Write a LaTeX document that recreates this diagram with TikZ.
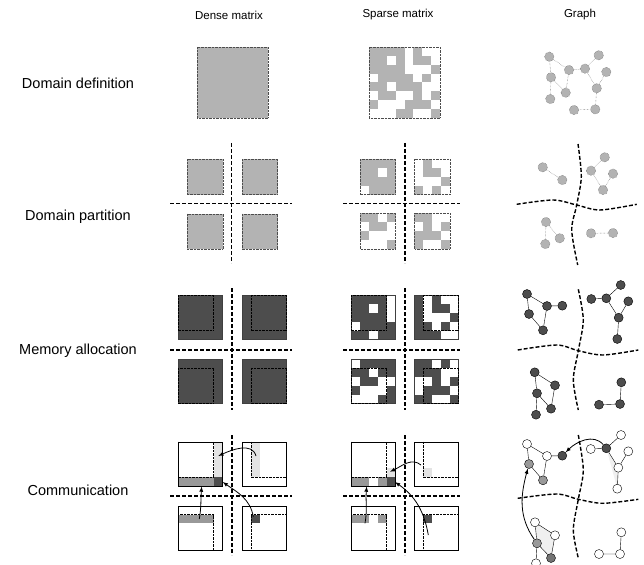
\documentclass[tikz,border=0pt]{standalone}
\usepackage{fontspec}
\setmainfont{Liberation Sans}
\usetikzlibrary{arrows,shapes}
\definecolor{lgray}{HTML}{B3B3B3}
\definecolor{mgray}{HTML}{999999}
\definecolor{dgray}{HTML}{4D4D4D}
\definecolor{pgray}{HTML}{E3E3E3}
\tikzstyle{lbl}=[font=\fontsize{11.5}{13}\selectfont, inner sep=0]
\tikzstyle{rowlbl}=[font=\fontsize{14.5}{16}\selectfont, inner sep=0]
\tikzstyle{part}=[line width=1.4pt, dash pattern=on 4pt off 2pt]
\tikzstyle{blk}=[fill=lgray, draw=black!70, densely dotted]
\tikzstyle{spbox}=[draw=black!70, densely dotted]
\tikzstyle{alloc}=[draw=black!75]
\tikzstyle{ghost}=[draw=black, densely dotted]
\tikzstyle{gv}=[circle, inner sep=0, minimum size=9.5pt, fill=lgray, draw=black!70, densely dotted]
\tikzstyle{dv}=[circle, inner sep=0, minimum size=9pt, fill=dgray, draw=black, solid]
\tikzstyle{wv}=[dv, fill=white]
\tikzstyle{mv}=[dv, fill=mgray]
\tikzstyle{ge}=[draw=black!70, densely dotted]
\tikzstyle{de}=[draw=black]
\tikzstyle{msg}=[->, >=latex, thick]
% nonzero cells (row/col) of the 8x8 sparse matrix
\def\nzlist{0/0,0/1,0/2,0/3,0/5,1/0,1/1,1/3,1/5,1/6,2/0,2/1,2/2,2/3,2/7,%
3/1,3/2,3/3,3/4,3/6,4/0,4/1,4/3,4/4,4/5,5/1,5/2,5/5,5/7,6/0,6/4,6/5,6/6,%
7/3,7/4,7/7}
\def\cw{8.875}
% origin x, origin y, first row, last row, first col, last col, fill
\newcommand\spcells[7]{%
  \foreach \ri/\ci in \nzlist {%
    \ifnum\ri<#3 \else\ifnum\ri>#4 \else\ifnum\ci<#5 \else\ifnum\ci>#6 \else
      \fill[#7] ({#1+\ci*\cw},{#2+\ri*\cw}) rectangle ++(\cw,\cw);
    \fi\fi\fi\fi
  }}

\begin{document}
\begin{tikzpicture}[x=1pt, y=-1pt]
\useasboundingbox (0,0) rectangle (644,564);

% headers and row labels
\node[lbl] (hdense) at (229,15) {Dense matrix};
\node[lbl] (hsparse) at (398,15) {Sparse matrix};
\node[lbl] (hgraph) at (580,15) {Graph};
\node[rowlbl] (rdef) at (78,83) {Domain definition};
\node[rowlbl] (rpart) at (78,217) {Domain partition};
\node[rowlbl] (ralloc) at (78,351) {Memory allocation};
\node[rowlbl] (rcomm) at (78,490) {Communication};

%%% domain definition
\draw[blk] (197,47) rectangle ++(71,71);
\spcells{369}{47}{0}{7}{0}{7}{lgray}
\draw[spbox] (369,47) rectangle ++(71,71);

\node[gv] (n1) at (549.3,56.7) {};
\node[gv] (n2) at (569,70) {};
\node[gv] (n3) at (551,77.3) {};
\node[gv] (n4) at (565.7,92.7) {};
\node[gv] (n5) at (550.3,99) {};
\node[gv] (n6) at (585,68.7) {};
\node[gv] (n7) at (598.7,55.3) {};
\node[gv] (n8) at (606.3,72) {};
\node[gv] (n9) at (596.7,88.3) {};
\node[gv] (n10) at (595.3,109.3) {};
\node[gv] (n11) at (574,110) {};
\draw[ge] (n1) -- (n2) (n1) -- (n3) (n3) -- (n4) (n2) -- (n4) (n3) -- (n5)
  (n2) -- (n6) (n6) -- (n7) (n6) -- (n9) (n9) -- (n8) (n9) -- (n10)
  (n10) -- (n11);

%%% domain partition
\foreach \x/\y in {187.3/159, 242/159, 187.3/213.7, 242/213.7}
  \draw[blk] (\x,\y) rectangle ++(35.5,35.5);
\draw[part] (231.7,143) -- (231.7,263);
\draw[part] (170,203.7) -- (292,203.7);

\spcells{360}{159}{0}{3}{0}{3}{lgray}
\spcells{414.3-4*\cw}{159}{0}{3}{4}{7}{lgray}
\spcells{360}{213.3-4*\cw}{4}{7}{0}{3}{lgray}
\spcells{414.3-4*\cw}{213.3-4*\cw}{4}{7}{4}{7}{lgray}
\foreach \x/\y in {360/159, 414.3/159, 360/213.3, 414.3/213.3}
  \draw[spbox] (\x,\y) rectangle ++(35.5,35.5);
\draw[part] (405,143) -- (405,263);
\draw[part] (343,203.7) -- (460,203.7);

\node[gv] (e1) at (542.7,167.3) {};
\node[gv] (e2) at (562.3,180) {};
\node[gv] (f1) at (604.7,157.3) {};
\node[gv] (f2) at (591,170.7) {};
\node[gv] (f3) at (613,173.7) {};
\node[gv] (f4) at (603,190) {};
\node[gv] (g1) at (546,222) {};
\node[gv] (g2) at (545.3,244) {};
\node[gv] (g3) at (559.7,238.3) {};
\node[gv] (h1) at (591,233.3) {};
\node[gv] (h2) at (613,233) {};
\draw[ge] (e1) -- (e2) (f2) -- (f1) (f2) -- (f4) (f4) -- (f3)
  (g1) -- (g2) (g1) -- (g3) (h1) -- (h2);
\draw[part] plot[smooth] coordinates {(578,144) (581.3,176.7) (576.7,205) (571.7,230) (577.7,265)};
\draw[part] plot[smooth] coordinates {(516.7,204.3) (553.3,200) (576.7,205) (600,210) (636.7,204.3)};

%%% memory allocation
\foreach \x/\y in {178/295, 242/295, 178/359, 242/359}
  \draw[alloc, fill=dgray] (\x,\y) rectangle ++(5*\cw,5*\cw);
\draw[ghost] (178,295) rectangle ++(4*\cw,4*\cw);
\draw[ghost] (242+\cw,295) rectangle ++(4*\cw,4*\cw);
\draw[ghost] (178,359+\cw) rectangle ++(4*\cw,4*\cw);
\draw[ghost] (242+\cw,359+\cw) rectangle ++(4*\cw,4*\cw);
\draw[part] (232,288) -- (232,410);
\draw[part] (170,350) -- (292,350);

\spcells{351}{295}{0}{4}{0}{4}{dgray}
\spcells{414-3*\cw}{295}{0}{4}{3}{7}{dgray}
\spcells{351}{359-3*\cw}{3}{7}{0}{4}{dgray}
\spcells{414-3*\cw}{359-3*\cw}{3}{7}{3}{7}{dgray}
\foreach \x/\y in {351/295, 414/295, 351/359, 414/359}
  \draw[alloc] (\x,\y) rectangle ++(5*\cw,5*\cw);
\draw[ghost] (351,295) rectangle ++(4*\cw,4*\cw);
\draw[ghost] (414+\cw,295) rectangle ++(4*\cw,4*\cw);
\draw[ghost] (351,359+\cw) rectangle ++(4*\cw,4*\cw);
\draw[ghost] (414+\cw,359+\cw) rectangle ++(4*\cw,4*\cw);
\draw[part] (405,288) -- (405,410);
\draw[part] (343,350) -- (460,350);

\node[dv] (a1) at (527,294) {};
\node[dv] (a2) at (547,306) {};
\node[dv] (a3) at (562.3,305.7) {};
\node[dv] (a4) at (529,314) {};
\node[dv] (a5) at (543,330.3) {};
\node[dv] (b1) at (591.3,299) {};
\node[dv] (b2) at (606.3,298.3) {};
\node[dv] (b3) at (620.7,285) {};
\node[dv] (b4) at (628.3,301.3) {};
\node[dv] (b5) at (618.7,317.7) {};
\node[dv] (b6) at (617.3,339) {};
\node[dv] (c1) at (534.7,372.3) {};
\node[dv] (c2) at (555,385.3) {};
\node[dv] (c3) at (537,393.3) {};
\node[dv] (c4) at (551,408.7) {};
\node[dv] (c5) at (536,414.7) {};
\node[dv] (d1) at (621.3,382.3) {};
\node[dv] (d2) at (620,404) {};
\node[dv] (d3) at (599,404.7) {};
\draw[de] (a1) -- (a2) (a1) -- (a4) (a2) -- (a3) (a2) -- (a5) (a4) -- (a5)
  (b1) -- (b2) (b2) -- (b3) (b2) -- (b5) (b5) -- (b4) (b5) -- (b6)
  (c1) -- (c2) (c1) -- (c3) (c3) -- (c4) (c2) -- (c4) (c3) -- (c5)
  (d1) -- (d2) (d2) -- (d3);
\draw[part] plot[smooth] coordinates {(578.3,289.3) (583.3,320) (578.3,350.7) (573.3,380) (578.3,410)};
\draw[part] plot[smooth] coordinates {(517.7,350) (556.7,345) (578.3,350.7) (603,355) (638.3,350)};

%%% communication
% dense
\fill[pgray] (178+4*\cw,441.7) rectangle ++(\cw,4*\cw);
\fill[mgray] (178,441.7+4*\cw) rectangle ++(4*\cw,\cw);
\fill[dgray] (178+4*\cw,441.7+4*\cw) rectangle ++(\cw,\cw);
\fill[pgray] (242+\cw,441.7) rectangle ++(\cw,4*\cw);
\fill[mgray] (178,505.7+\cw) rectangle ++(4*\cw,\cw);
\fill[dgray] (242+\cw,505.7+\cw) rectangle ++(\cw,\cw);
\foreach \x/\y in {178/441.7, 242/441.7, 178/505.7, 242/505.7}
  \draw (\x,\y) rectangle ++(5*\cw,5*\cw);
\draw[ghost] (178,441.7) rectangle ++(4*\cw,4*\cw);
\draw[ghost] (242+\cw,441.7) rectangle ++(4*\cw,4*\cw);
\draw[ghost] (178,505.7+\cw) rectangle ++(4*\cw,4*\cw);
\draw[ghost] (242+\cw,505.7+\cw) rectangle ++(4*\cw,4*\cw);
\draw[part] (232,435) -- (232,555);
\draw[part] (170,496) -- (292,496);
\coordinate (dsrc1) at (256,456);
\coordinate (ddst1) at (218.3,456);
\coordinate (dsrc2) at (199.3,519);
\coordinate (ddst2) at (201.7,486.5);
\coordinate (dsrc3) at (253.3,516.7);
\coordinate (ddst3) at (222.7,482);
\draw[msg] (dsrc1) to[out=105,in=25] (ddst1);
\draw[msg] (dsrc2) to[out=80,in=-95] (ddst2);
\draw[msg] (dsrc3) to[out=100,in=-35] (ddst3);

% sparse
\spcells{351}{441.7}{0}{3}{4}{4}{pgray}
\spcells{351}{441.7}{4}{4}{0}{3}{mgray}
\spcells{351}{441.7}{4}{4}{4}{4}{dgray}
\spcells{414-3*\cw}{441.7}{0}{3}{4}{4}{pgray}
\spcells{351}{505.7-3*\cw}{4}{4}{0}{3}{mgray}
\spcells{414-3*\cw}{505.7-3*\cw}{4}{4}{4}{4}{dgray}
\foreach \x/\y in {351/441.7, 414/441.7, 351/505.7, 414/505.7}
  \draw (\x,\y) rectangle ++(5*\cw,5*\cw);
\draw[ghost] (351,441.7) rectangle ++(4*\cw,4*\cw);
\draw[ghost] (414+\cw,441.7) rectangle ++(4*\cw,4*\cw);
\draw[ghost] (351,505.7+\cw) rectangle ++(4*\cw,4*\cw);
\draw[ghost] (414+\cw,505.7+\cw) rectangle ++(4*\cw,4*\cw);
\draw[part] (405,435) -- (405,555);
\draw[part] (343,496) -- (460,496);
\coordinate (ssrc1) at (421,465);
\coordinate (sdst1) at (390,471.7);
\coordinate (ssrc2) at (365,523.3);
\coordinate (sdst2) at (366.7,486.5);
\coordinate (ssrc3) at (428.3,535);
\coordinate (sdst3) at (395,482);
\draw[msg] (ssrc1) to[out=140,in=25] (sdst1);
\draw[msg] (ssrc2) to[out=80,in=-95] (sdst2);
\draw[msg] (ssrc3) to[out=100,in=-35] (sdst3);

% graph
\fill[black!6] (606.3,448.3) -- (618.3,467.7) -- (617.3,488.7) -- cycle;
\fill[black!6] (535,522.3) -- (555,535.3) -- (551,558) -- (537,543.3) -- cycle;
\node[wv] (p1) at (527,444) {};
\node[wv] (p2) at (547,456) {};
\node[dv] (p3) at (562.3,455.7) {};
\node[mv] (p4) at (529,464) {};
\node[mv] (p5) at (543,480.3) {};
\node[wv] (q1) at (590.7,449) {};
\node[dv] (q2) at (606.3,448.3) {};
\node[wv] (q3) at (621,435) {};
\node[wv] (q4) at (628.3,451.3) {};
\node[wv] (q5) at (618.3,467.7) {};
\node[wv] (q6) at (617.3,488.7) {};
\node[wv] (r1) at (535,522.3) {};
\node[wv] (r2) at (555,535.3) {};
\node[mv] (r3) at (537,543.3) {};
\node[mv, fill=black!55] (r4) at (551,558) {};
\node[wv] (r5) at (536,563.3) {};
\node[wv] (s1) at (621.3,532.3) {};
\node[wv] (s2) at (620,554) {};
\node[wv] (s3) at (599,554) {};
\draw[de] (p1) -- (p2) (p1) -- (p4) (p2) -- (p3) (p2) -- (p5) (p4) -- (p5)
  (q1) -- (q2) (q2) -- (q3) (q2) -- (q5) (q5) -- (q4) (q5) -- (q6)
  (r1) -- (r2) (r1) -- (r3) (r3) -- (r4) (r2) -- (r4) (r3) -- (r5)
  (s1) -- (s2) (s2) -- (s3);
\draw[part] plot[smooth] coordinates {(578.3,435) (583.3,470) (578.3,499.3) (573.3,530) (578.3,558)};
\draw[part] plot[smooth] coordinates {(517.7,498.3) (556.7,494) (578.3,499.3) (603,503.3) (638.3,499.3)};
\draw[msg] (q2) to[out=130,in=45] (p3);
\draw[msg] (r3) to[out=125,in=-105] (p4);
\end{tikzpicture}
\end{document}
